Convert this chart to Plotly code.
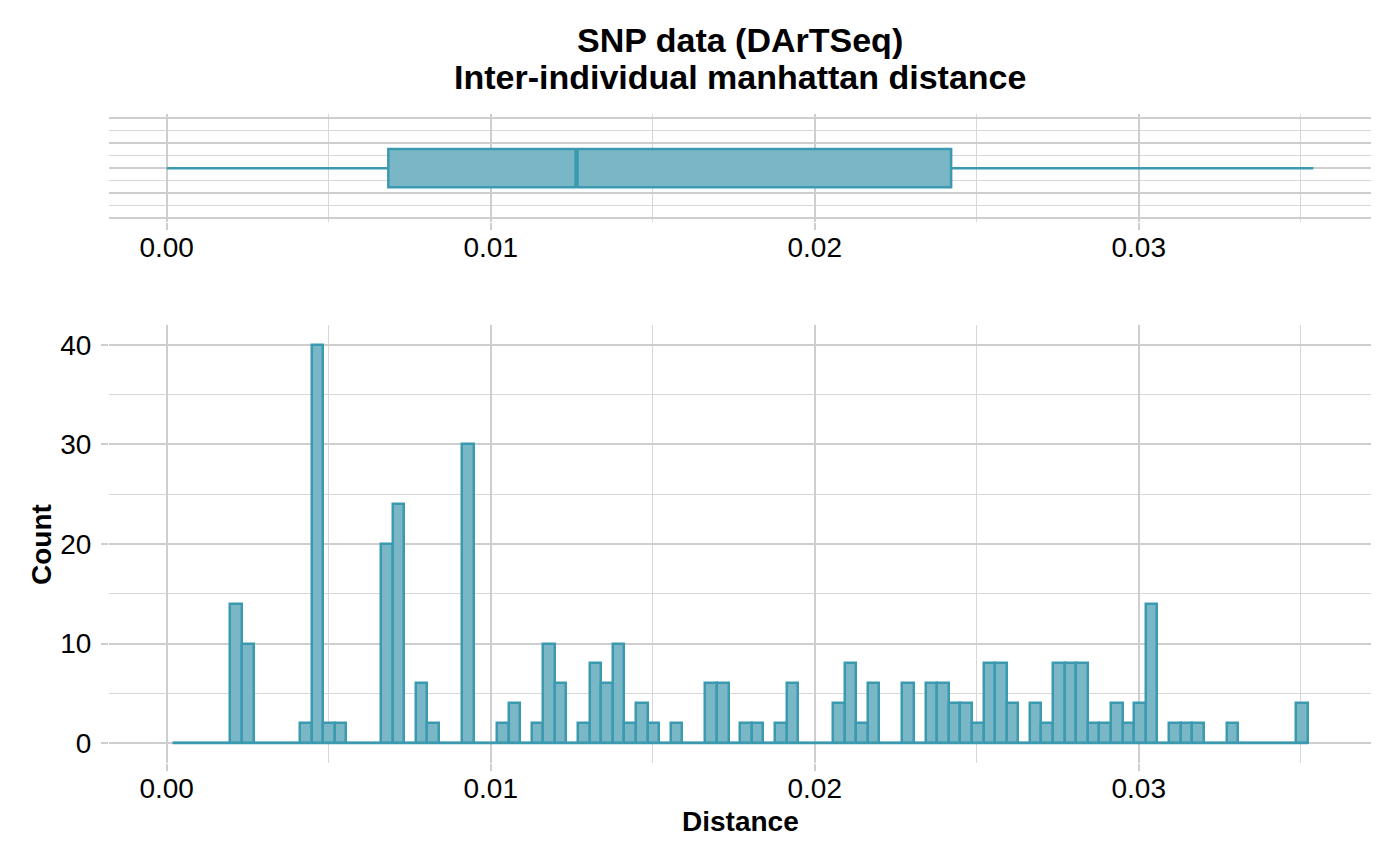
"""Distance histogram with a boxplot on top (SNP DArTSeq data)."""
import plotly.graph_objects as go

# histogram: bin width and counts per bin (bins centred on k * bin_width, k = 1..98)
bin_width = 0.0003576
counts = [
    0, 0, 0, 0, 0, 14, 10, 0, 0, 0,
    0, 2, 40, 2, 2, 0, 0, 0, 20, 24,
    0, 6, 2, 0, 0, 30, 0, 0, 2, 4,
    0, 2, 10, 6, 0, 2, 8, 6, 10, 2,
    4, 2, 0, 2, 0, 0, 6, 6, 0, 2,
    2, 0, 2, 6, 0, 0, 0, 4, 8, 2,
    6, 0, 0, 6, 0, 6, 6, 4, 4, 2,
    8, 8, 4, 0, 4, 2, 8, 8, 8, 2,
    2, 4, 2, 4, 14, 0, 2, 2, 2, 0,
    0, 2, 0, 0, 0, 0, 0, 4,
]
bin_centers = [bin_width * (i + 1) for i in range(len(counts))]
bin_edges = [bin_centers[0] - bin_width / 2, bin_centers[-1] + bin_width / 2]

# boxplot summary of the same distances
box_stats = dict(lowerfence=0.0, q1=0.00684, median=0.01265, q3=0.02421, upperfence=0.03539)
box_width = 0.307

x_ticks = [0.0, 0.01, 0.02, 0.03]
x_tick_labels = ["0.00", "0.01", "0.02", "0.03"]
y_ticks = [0, 10, 20, 30, 40]

FILL = "#79B7C6"
EDGE = "#3B99B0"
GRID = "#CECECE"
GRID_MINOR = "#D8D8D8"
FONT = "Liberation Sans, Arial, sans-serif"
W, H = 1400, 866


def px_x(p):
    return p / W


def px_y(p):
    return 1 - p / H


fig = go.Figure()

fig.add_trace(go.Box(
    y=[0], q1=[box_stats["q1"]], median=[box_stats["median"]], q3=[box_stats["q3"]],
    lowerfence=[box_stats["lowerfence"]], upperfence=[box_stats["upperfence"]],
    orientation="h", width=box_width, whiskerwidth=0,
    fillcolor=FILL, line=dict(color=EDGE, width=2.5),
    boxpoints=False, xaxis="x", yaxis="y", showlegend=False,
))
# thicker median line, as in the original
fig.add_trace(go.Scatter(
    x=[box_stats["median"]] * 2, y=[-box_width / 2, box_width / 2],
    mode="lines", line=dict(color=EDGE, width=4.5),
    xaxis="x", yaxis="y", showlegend=False, hoverinfo="skip",
))

# zero line of empty bins
fig.add_trace(go.Scatter(
    x=bin_edges, y=[0, 0], mode="lines", line=dict(color=EDGE, width=2.5),
    xaxis="x2", yaxis="y2", showlegend=False, hoverinfo="skip",
))
fig.add_trace(go.Bar(
    x=bin_centers, y=counts, width=bin_width,
    marker=dict(color=FILL, line=dict(color=EDGE, width=2.5)),
    xaxis="x2", yaxis="y2", showlegend=False,
))

x_range = [-0.001781, 0.03716]
common_x = dict(
    range=x_range, tickvals=x_ticks, ticktext=x_tick_labels,
    showgrid=True, gridcolor=GRID, gridwidth=2.2, zeroline=False,
    ticks="outside", ticklen=7, tickwidth=2.2, tickcolor=GRID,
    tickfont=dict(size=28, color="black", family=FONT),
    minor=dict(dtick=0.005, tick0=0, showgrid=True, gridcolor=GRID_MINOR, gridwidth=1.3, ticks=""),
    showline=False, ticklabelstandoff=-7,
)

fig.update_layout(
    width=W, height=H,
    margin=dict(l=0, r=0, t=0, b=0),
    paper_bgcolor="white", plot_bgcolor="white",
    font=dict(family=FONT, color="black"),
    bargap=0,
    xaxis=dict(domain=[px_x(109), px_x(1370.7)], anchor="y", **common_x),
    yaxis=dict(
        domain=[px_y(222.3), px_y(114)], anchor="x",
        range=[-0.433, 0.433], tickvals=[-0.4, -0.2, 0, 0.2, 0.4],
        showticklabels=False, ticks="", zeroline=False,
        showgrid=True, gridcolor=GRID, gridwidth=2.2,
        minor=dict(tickvals=[-0.3, -0.1, 0.1, 0.3], showgrid=True, gridcolor=GRID_MINOR, gridwidth=1.3),
    ),
    xaxis2=dict(domain=[px_x(109), px_x(1370.7)], anchor="y2", **common_x),
    yaxis2=dict(
        domain=[px_y(763), px_y(325)], anchor="x2",
        range=[-2, 42], tickvals=y_ticks,
        showgrid=True, gridcolor=GRID, gridwidth=2.2, zeroline=False,
        ticks="outside", ticklen=7, tickwidth=2.2, tickcolor=GRID,
        tickfont=dict(size=28, color="black", family=FONT),
        minor=dict(dtick=5, tick0=0, showgrid=True, gridcolor=GRID_MINOR, gridwidth=1.3, ticks=""),
        ticklabelstandoff=4,
    ),
    annotations=[
        dict(text="<b>SNP data (DArTSeq)</b>", x=px_x(740), y=px_y(40), xref="paper", yref="paper",
             showarrow=False, xanchor="center", yanchor="middle", font=dict(size=34)),
        dict(text="<b>Inter-individual manhattan distance</b>", x=px_x(740), y=px_y(76.5),
             xref="paper", yref="paper", showarrow=False, xanchor="center", yanchor="middle",
             font=dict(size=34)),
        dict(text="<b>Distance</b>", x=px_x(740), y=px_y(821), xref="paper", yref="paper",
             showarrow=False, xanchor="center", yanchor="middle", font=dict(size=28)),
        dict(text="<b>Count</b>", x=px_x(41), y=px_y(545), xref="paper", yref="paper",
             showarrow=False, xanchor="center", yanchor="middle", textangle=-90, font=dict(size=28)),
    ],
)

# the page body has a default 8px margin; drop it so the figure sits at the top-left corner
fig.write_html("out.html", config={"displayModeBar": False},
               post_script="document.body.style.margin = '0px';")
